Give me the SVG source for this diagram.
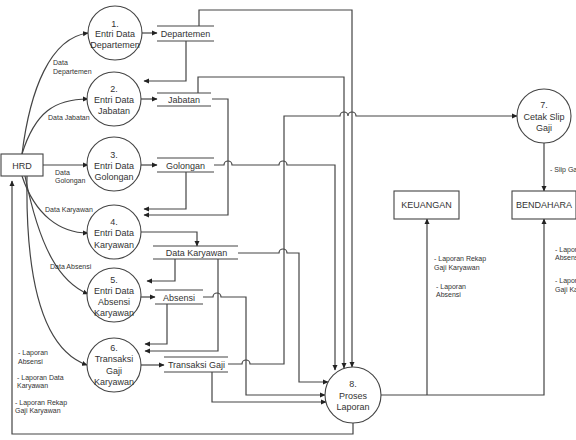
<svg xmlns="http://www.w3.org/2000/svg" width="576" height="440" viewBox="0 0 576 440">
<defs>
<marker id="ah" markerWidth="6" markerHeight="6" refX="5" refY="3" orient="auto" markerUnits="userSpaceOnUse">
<path d="M0,0.5 L5.5,3 L0,5.5 Z" fill="#222"/>
</marker>
</defs>
<style>
.c{fill:#fff;stroke:#444;stroke-width:1.1}
.b{fill:#fff;stroke:#444;stroke-width:1.1}
.s{stroke:#444;stroke-width:1.1;fill:none}
.l{stroke:#444;stroke-width:1.2;fill:none}
.a{marker-end:url(#ah)}
text{font-family:"Liberation Sans",Arial,sans-serif;fill:#333}
.t{font-size:9px;text-anchor:middle}
.m{font-size:7px}
</style>
<rect width="576" height="440" fill="#fff"/>

<g id="connectors">
<path class="l a" d="M22,154 C30,90 50,38 88,33"/>
<path class="l a" d="M22,154 C35,112 55,99 88,99"/>
<path class="l a" d="M43,165 H88"/>
<path class="l a" d="M22,176 C35,215 60,233 88,233"/>
<path class="l a" d="M25,176 C40,250 60,282 88,294"/>
<path class="l a" d="M27,176 C25,300 50,352 87,365"/>
<path class="l a" d="M141,33 H157"/>
<path class="l a" d="M141,99 H157"/>
<path class="l a" d="M141,165 H157"/>
<path class="l a" d="M141,232 H197 V246"/>
<path class="l a" d="M141,297 H155"/>
<path class="l a" d="M140,365 H164"/>
<path class="l a" d="M186,41 V81 H144"/>
<path class="l a" d="M199,26 V10 H352 V367"/>
<path class="l a" d="M198,93 V77 H344 V368"/>
<path class="l a" d="M212,99 H228 V215 H144"/>
<path class="l a" d="M186,172 V209 H144"/>
<path class="l a" d="M214,165 H224 a4,4 0 0 1 8,0 H279 a4,4 0 0 1 8,0 H335 V370"/>
<path class="l a" d="M238,253 H279 a4,4 0 0 1 8,0 H299 V382 H328"/>
<path class="l a" d="M175,259 V281 H147"/>
<path class="l a" d="M218,259 V351 H145"/>
<path class="l a" d="M167,304 V344 H145"/>
<path class="l a" d="M203,297 H213 a4,4 0 0 1 8,0 H246 V395 H325"/>
<path class="l a" d="M212,372 V402 H326"/>
<path class="l a" d="M228,364 H242 a4,4 0 0 1 8,0 H284 V116 H340 a4,4 0 0 1 8,0 a4,4 0 0 1 8,0 H517"/>
<path class="l a" d="M544,143 V191"/>
<path class="l a" d="M380,395 H544 V219"/>
<path class="l a" d="M427,395 V219"/>
<path class="l a" d="M353,423 V434 H12 V181"/>
</g>

<g id="labels">
<text class="m" x="53" y="64.5">Data</text>
<text class="m" x="53" y="73.5">Departemen</text>
<text class="m" x="48" y="119.5">Data Jabatan</text>
<text class="m" x="55" y="174.5">Data</text>
<text class="m" x="55" y="182.5">Golongan</text>
<text class="m" x="45" y="211.5">Data Karyawan</text>
<text class="m" x="50" y="268.5">Data Absensi</text>
<text class="m" x="18" y="354.5">- Laporan</text>
<text class="m" x="18" y="363.5">Absensi</text>
<text class="m" x="17" y="379.5">- Laporan Data</text>
<text class="m" x="17" y="387.5">Karyawan</text>
<text class="m" x="15" y="404.5">- Laporan Rekap</text>
<text class="m" x="15" y="412.5">Gaji Karyawan</text>
<text class="m" x="434" y="260.5">- Laporan Rekap</text>
<text class="m" x="434" y="269.5">Gaji Karyawan</text>
<text class="m" x="436" y="288.5">- Laporan</text>
<text class="m" x="436" y="296.5">Absensi</text>
<text class="m" x="555" y="251.5">- Laporan</text>
<text class="m" x="555" y="259.5">Absensi</text>
<text class="m" x="555" y="282.5">- Laporan Rekap</text>
<text class="m" x="555" y="291.5">Gaji Karyawan</text>
<text class="m" x="550" y="171.5">- Slip Gaji</text>
</g>

<g id="p1"><circle class="c" cx="115" cy="33" r="27"/><text class="t" x="115" y="26.5">1.</text><text class="t" x="115" y="37">Entri Data</text><text class="t" x="115" y="47.5">Departemen</text></g>
<g id="p2"><circle class="c" cx="114" cy="99" r="27"/><text class="t" x="114" y="91.5">2.</text><text class="t" x="114" y="102.5">Entri Data</text><text class="t" x="114" y="113.5">Jabatan</text></g>
<g id="p3"><circle class="c" cx="114" cy="164" r="27"/><text class="t" x="114" y="157.5">3.</text><text class="t" x="114" y="168.5">Entri Data</text><text class="t" x="114" y="179.5">Golongan</text></g>
<g id="p4"><circle class="c" cx="114" cy="232" r="27"/><text class="t" x="114" y="224.5">4.</text><text class="t" x="114" y="236">Entri Data</text><text class="t" x="114" y="247.5">Karyawan</text></g>
<g id="p5"><circle class="c" cx="114" cy="295" r="27"/><text class="t" x="114" y="283">5.</text><text class="t" x="114" y="294">Entri Data</text><text class="t" x="114" y="305">Absensi</text><text class="t" x="114" y="316">Karyawan</text></g>
<g id="p6"><circle class="c" cx="114" cy="365" r="27"/><text class="t" x="114" y="350.5">6.</text><text class="t" x="114" y="362">Transaksi</text><text class="t" x="114" y="373.5">Gaji</text><text class="t" x="114" y="385">Karyawan</text></g>
<g id="p7"><circle class="c" cx="544" cy="116" r="27"/><text class="t" x="544" y="108">7.</text><text class="t" x="544" y="119.5">Cetak Slip</text><text class="t" x="544" y="130.5">Gaji</text></g>
<g id="p8"><circle class="c" cx="353" cy="395" r="28"/><text class="t" x="353" y="387">8.</text><text class="t" x="353" y="398.5">Proses</text><text class="t" x="353" y="409.5">Laporan</text></g>

<g id="hrd"><rect class="b" x="1" y="154" width="42" height="22"/><text class="t" x="22" y="168.5">HRD</text></g>
<g id="keuangan"><rect class="b" x="394" y="191" width="65" height="28"/><text class="t" x="426.5" y="208">KEUANGAN</text></g>
<g id="bendahara"><rect class="b" x="512" y="191" width="64" height="28"/><text class="t" x="544" y="208">BENDAHARA</text></g>

<g id="ds-departemen"><path class="s" d="M157,26 H214 M157,41 H214"/><text class="t" x="185.5" y="36.5">Departemen</text></g>
<g id="ds-jabatan"><path class="s" d="M157,93 H211 M157,106 H211"/><text class="t" x="184" y="102.5">Jabatan</text></g>
<g id="ds-golongan"><path class="s" d="M157,158 H214 M157,172 H214"/><text class="t" x="185.5" y="168.5">Golongan</text></g>
<g id="ds-karyawan"><path class="s" d="M153,246 H238 M153,259 H238"/><text class="t" x="196.5" y="255.5">Data Karyawan</text></g>
<g id="ds-absensi"><path class="s" d="M155,290 H203 M155,304 H203"/><text class="t" x="179" y="300.5">Absensi</text></g>
<g id="ds-transaksi"><path class="s" d="M164,357 H228 M164,372 H228"/><text class="t" x="196.5" y="367.5">Transaksi Gaji</text></g>
</svg>
